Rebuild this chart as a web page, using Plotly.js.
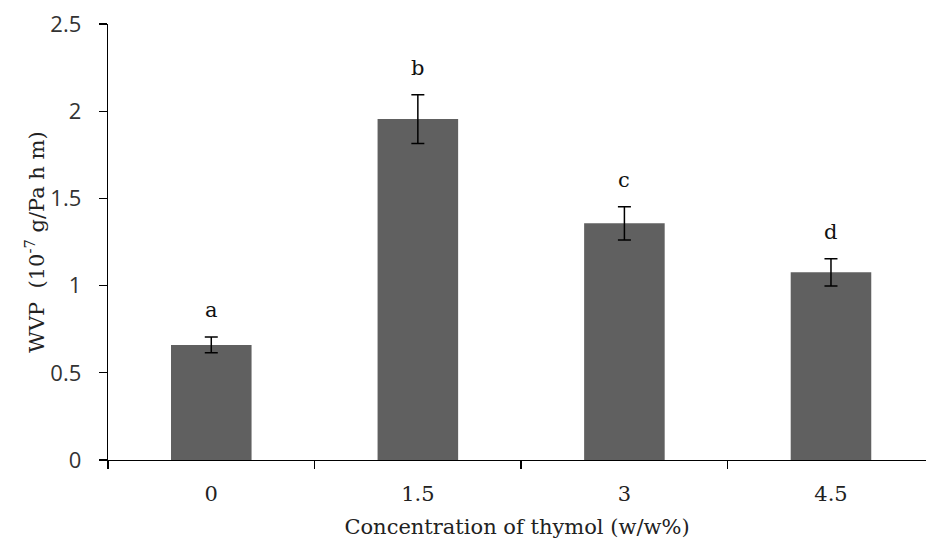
<!DOCTYPE html>
<html>
<head>
<meta charset="utf-8">
<script src="https://cdn.plot.ly/plotly-3.0.1.min.js"></script>
<style>html,body{margin:0;padding:0;background:#fff;}#chart{width:926px;height:549px;}</style>
</head>
<body>
<div id="chart"></div>
<script>
const categories = ['0', '1.5', '3', '4.5'];
const wvp = [0.66, 1.955, 1.357, 1.076];
const wvpErr = [0.045, 0.14, 0.095, 0.078];
const letters = ['a', 'b', 'c', 'd'];

const SERIF = 'DejaVu Serif, Liberation Serif, serif';
const SANS = 'Open Sans, DejaVu Sans, sans-serif';

const trace = {
  type: 'bar',
  x: categories,
  y: wvp,
  width: 0.39,
  marker: {color: '#606060', line: {width: 0}},
  error_y: {type: 'data', array: wvpErr, visible: true, color: '#000', thickness: 1.5, width: 6.5},
  hoverinfo: 'x+y'
};

const annotations = categories.map((c, i) => ({
  x: i, y: wvp[i] + wvpErr[i], xref: 'x', yref: 'y',
  text: letters[i], showarrow: false, yanchor: 'bottom', yshift: 13,
  font: {family: SERIF, size: 21, color: '#111'}
}));

const layout = {
  width: 926, height: 549,
  margin: {l: 108, r: 0, t: 24, b: 89},
  paper_bgcolor: '#fff', plot_bgcolor: '#fff',
  showlegend: false,
  font: {family: SERIF, size: 21, color: '#222'},
  xaxis: {
    type: 'category', range: [-0.5, 3.46],
    tickson: 'boundaries', ticks: 'outside', ticklen: 8, tickwidth: 1.3, tickcolor: '#000',
    showline: true, linecolor: '#000', linewidth: 1.3, showgrid: false, zeroline: false,
    ticklabelstandoff: 14,
    tickfont: {family: SERIF, size: 21, color: '#222'},
    title: {text: 'Concentration of thymol (w/w%)', font: {family: SERIF, size: 21, color: '#222'}, standoff: 14}
  },
  yaxis: {
    range: [0, 2.5], dtick: 0.5,
    ticks: 'outside', ticklen: 8, tickwidth: 1.3, tickcolor: '#000',
    showline: true, linecolor: '#000', linewidth: 1.3, showgrid: false, zeroline: false,
    ticklabelstandoff: 13,
    tickfont: {family: SANS, size: 22, color: '#333'},
    title: {text: 'WVP  (10<sup>-7</sup> g/Pa h m)', font: {family: SERIF, size: 21, color: '#222'}, standoff: 0}
  },
  annotations: annotations
};

Plotly.newPlot('chart', [trace], layout, {displayModeBar: false, staticPlot: true});
</script>
</body>
</html>
